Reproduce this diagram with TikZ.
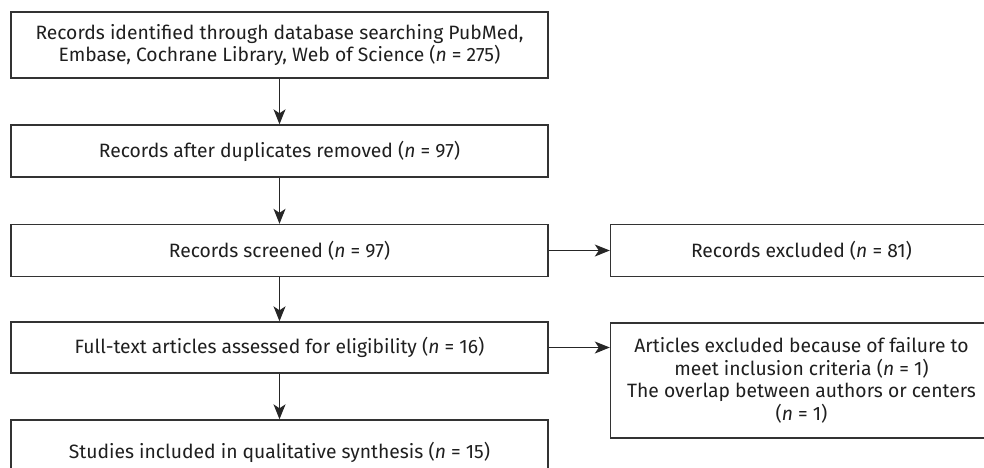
\documentclass[tikz,border=0pt]{standalone}
\usepackage{fontspec}
\setmainfont{Fira Sans}
\usetikzlibrary{arrows.meta}
\begin{document}
\begin{tikzpicture}[x=1pt,y=-1pt,
  box/.style={draw=black!80, line width=1.4pt, inner sep=0pt, align=center,
    font=\fontsize{19.3}{22.5}\selectfont, text=black!88},
  arr/.style={-{Stealth[length=15pt,width=12pt,inset=4pt]}, line width=1.2pt, draw=black!85}]
\useasboundingbox (0,0) rectangle (984,467);
\clip (0,0) rectangle (984,467);
\node[box, minimum width=537pt, minimum height=66pt] (b1) at (279.5,45)
  {Records identified through database searching PubMed,\\Embase, Cochrane Library, Web of Science (\textit{n} = 275)};
\node[box, minimum width=537pt, minimum height=52pt] (b2) at (279.5,151)
  {Records after duplicates removed (\textit{n} = 97)};
\node[box, minimum width=537pt, minimum height=52pt] (b3) at (279.5,250.5)
  {Records screened (\textit{n} = 97)};
\node[box, minimum width=537pt, minimum height=51pt] (b4) at (279.5,347.5)
  {Full-text articles assessed for eligibility (\textit{n} = 16)};
\node[box, minimum width=537pt, minimum height=64pt] (b5) at (279.5,452)
  {Studies included in qualitative synthesis (\textit{n} = 15)};
\node[box, minimum width=382pt, minimum height=52pt] (r1) at (801.5,250.5)
  {Records excluded (\textit{n} = 81)};
\node[box, minimum width=382pt, minimum height=115pt] (r2) at (801.5,380.5)
  {Articles excluded because of failure to\\meet inclusion criteria (\textit{n} = 1)\\The overlap between authors or centers\\(\textit{n} = 1)};
\draw[arr] (b1) -- (b2);
\draw[arr] (b2) -- (b3);
\draw[arr] (b3) -- (r1);
\draw[arr] (b3) -- (b4);
\draw[arr] (b4) -- (b5);
\draw[arr] (b4.east) -- (b4.east -| r2.west);
\end{tikzpicture}
\end{document}
